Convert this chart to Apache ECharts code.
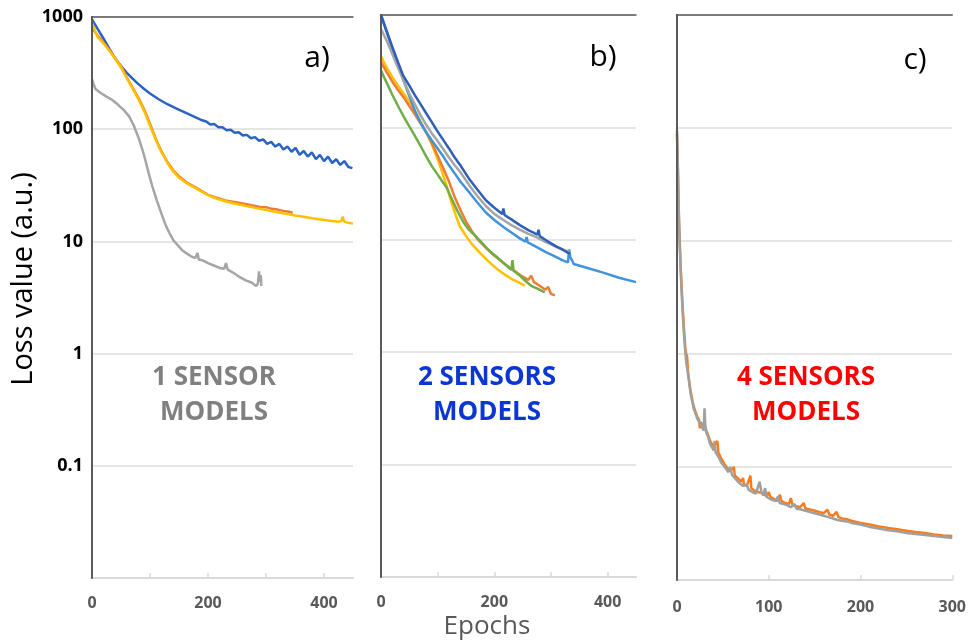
<!DOCTYPE html>
<html>
<head>
<meta charset="utf-8">
<script src="https://cdn.jsdelivr.net/npm/echarts@6/dist/echarts.min.js"></script>
<style>
  html, body { margin: 0; padding: 0; background: #fff; }
  #main { width: 969px; height: 641px; }
</style>
</head>
<body>
<div id="main"></div>
<script>
// panel a) 1 sensor models  [epoch, loss]
var aBlue = [[0,950],[10,780],[20,640],[30,520],[40,425],[50,365],[60,318],[70,282],[80,252],[90,228],[100,208],[115,185],[130,167],[145,153],[160,141],[175,130],[190,120],[197,117],[204,110],[211,111],[218,104],[225,104],[232,98],[239,99],[246,93],[253,94],[260,88],[267,89],[274,83],[281,85],[288,79],[295,81],[302,74],[309,77],[316,70],[323,74],[330,66],[337,70],[344,63],[351,68],[358,59],[365,64],[372,57],[379,62],[386,54],[393,59],[400,52],[407,57],[414,50],[421,54],[428,48],[435,52],[442,46],[449,45]];
var aOrange = [[0,800],[5,740],[10,680],[20,590],[30,505],[40,430],[50,365],[60,290],[70,235],[80,190],[90,150],[100,112],[110,82],[120,63],[130,51],[140,43],[150,38],[165,33],[180,30],[200,26],[215,24.5],[230,23.2],[245,22.5],[260,21.8],[275,21],[290,20.3],[300,20.2],[310,19.5],[320,19.2],[330,18.7],[340,18.4],[346,18]];
var aYellow = [[0,880],[5,760],[10,660],[20,580],[30,500],[40,425],[50,355],[60,285],[70,230],[80,185],[90,145],[100,108],[110,80],[120,62],[130,50],[140,42],[150,37],[165,32.5],[180,29.5],[200,25.8],[215,24],[230,22.8],[245,21.8],[260,21],[275,20.2],[290,19.5],[305,18.8],[320,18.2],[335,17.6],[350,17],[365,16.6],[380,16.1],[395,15.7],[410,15.3],[425,15],[430,15.2],[432,16.6],[435,15],[440,14.7],[450,14.4]];
var aGray = [[0,280],[3,250],[6,228],[15,210],[25,195],[35,182],[45,165],[55,148],[64,130],[72,108],[81,82],[90,58],[98,40],[104,31],[112,23],[120,17.5],[127,14],[133,12],[140,10.3],[148,9.2],[155,8.4],[162,7.9],[170,7.4],[178,7.1],[182,7.9],[184,6.9],[190,6.8],[200,6.4],[210,6.1],[220,5.8],[228,5.7],[231,6.4],[234,5.6],[245,5.2],[255,4.8],[265,4.5],[275,4.3],[283,4.0],[286,4.2],[288,5.4],[289,4.4],[291,5.0],[292,4.0]];

// panel b) 2 sensors models
var bDarkBlue = [[0,1000],[10,720],[20,520],[30,380],[39,290],[50,235],[60,193],[70,160],[80,133],[90,111],[98,95],[110,77],[120,65],[130,54],[140,46],[157,34],[170,28],[185,22.5],[200,19.3],[214,17],[216,19],[218,16.6],[230,15.2],[245,13.5],[260,12.2],[276,11.1],[278,12.3],[280,10.8],[290,10],[300,9.3],[310,8.7],[320,8.2],[333,7.5]];
var bGray = [[0,750],[10,590],[20,450],[30,340],[40,260],[50,200],[60,160],[70,128],[80,105],[90,88],[98,78],[110,64],[120,54],[130,46],[140,40],[157,30],[170,24.5],[185,20],[200,17],[216,15],[230,13.5],[245,12.3],[260,11.3],[275,10.5],[290,9.6],[300,9.1],[310,8.6],[320,8.2],[333,7.8]];
var bLightBlue = [[0,1000],[10,700],[20,500],[30,360],[40,260],[50,190],[60,140],[70,110],[80,90],[90,76],[98,67],[110,55],[120,46],[130,39],[140,33],[157,26],[170,21.5],[185,17.5],[200,15],[216,13],[230,11.6],[245,10.3],[255,9.6],[257,10.6],[259,9.5],[275,8.6],[290,7.8],[305,7.2],[320,6.6],[330,6.3],[332,8.2],[334,7.0],[337,6.6],[340,6.1],[360,5.7],[392,5.1],[420,4.6],[450,4.2]];
var bYellow = [[0,430],[10,340],[20,280],[30,235],[39,203],[50,170],[60,140],[70,112],[80,90],[90,70],[100,52],[108,40],[116,30],[125,21],[132,16.5],[139,13.2],[150,10.8],[160,9.2],[175,7.6],[190,6.4],[205,5.5],[216,5.0],[230,4.5],[242,4.2],[254,3.9]];
var bOrange = [[0,380],[10,310],[20,255],[30,215],[40,185],[50,155],[60,130],[70,108],[80,90],[90,72],[100,56],[110,43],[120,33],[130,24],[140,18.5],[150,14.5],[160,12],[170,10.2],[180,9],[190,8],[200,7.2],[210,6.6],[220,6],[230,5.5],[240,5.1],[250,4.7],[260,4.4],[265,4.8],[270,4.2],[280,3.9],[290,3.6],[295,3.8],[300,3.3],[307,3.2]];
var bGreen = [[0,320],[10,250],[20,195],[30,155],[40,125],[50,102],[57,89],[70,68],[80,55],[90,45],[100,38],[110,32],[116,29],[125,23],[135,18],[145,14.5],[155,12.3],[165,11],[175,9.8],[185,8.6],[195,7.7],[205,7],[215,6.3],[225,5.7],[230,5.4],[232,6.6],[234,5.3],[245,4.8],[255,4.3],[265,3.9],[275,3.7],[289,3.4]];

// panel c) 4 sensors models
var cGray = [[0,95],[1,40],[2,16],[3,9],[4,5.5],[5,3.6],[6,2.5],[7,1.8],[8,1.35],[9,1.05],[10,0.85],[11,0.75],[12,0.66],[13,0.58],[14,0.5],[15,0.44],[16,0.4],[17,0.37],[18,0.33],[20,0.3],[22,0.27],[24,0.25],[26,0.24],[28,0.22],[29,0.21],[30,0.33],[31,0.22],[32,0.2],[34,0.185],[36,0.16],[38,0.15],[40,0.14],[41,0.17],[42,0.135],[44,0.13],[46,0.12],[48,0.11],[50,0.105],[52,0.1],[54,0.095],[56,0.09],[58,0.1],[60,0.085],[62,0.083],[64,0.078],[66,0.076],[68,0.072],[70,0.07],[72,0.068],[74,0.066],[76,0.07],[78,0.063],[80,0.062],[82,0.06],[84,0.058],[86,0.058],[88,0.057],[90,0.074],[92,0.06],[94,0.056],[96,0.065],[98,0.054],[100,0.053],[104,0.051],[108,0.05],[110,0.055],[112,0.048],[116,0.047],[120,0.046],[124,0.044],[128,0.047],[130,0.043],[135,0.042],[140,0.041],[145,0.04],[150,0.039],[155,0.038],[160,0.037],[165,0.036],[170,0.035],[175,0.034],[180,0.0335],[185,0.033],[190,0.032],[200,0.031],[210,0.0295],[220,0.0285],[230,0.0275],[240,0.027],[250,0.026],[260,0.0255],[270,0.025],[280,0.0245],[290,0.024],[300,0.0235]];
var cOrange = [[0,90],[1,45],[2,18],[3,10],[4,6],[5,4],[6,2.8],[7,2.0],[8,1.5],[9,1.15],[10,1.0],[11,0.95],[12,0.7],[13,0.6],[14,0.52],[15,0.46],[16,0.42],[17,0.38],[18,0.35],[20,0.31],[22,0.28],[24,0.26],[25,0.22],[26,0.25],[28,0.23],[30,0.24],[32,0.21],[34,0.19],[36,0.17],[38,0.16],[40,0.15],[42,0.145],[44,0.17],[45,0.135],[48,0.12],[50,0.112],[52,0.105],[54,0.1],[56,0.096],[58,0.092],[60,0.09],[62,0.1],[63,0.084],[66,0.08],[68,0.077],[70,0.074],[72,0.08],[73,0.07],[76,0.068],[78,0.066],[80,0.084],[81,0.065],[84,0.062],[86,0.061],[88,0.06],[92,0.059],[95,0.057],[98,0.055],[100,0.06],[102,0.054],[106,0.052],[110,0.05],[112,0.057],[114,0.05],[118,0.048],[122,0.047],[124,0.053],[126,0.046],[130,0.045],[134,0.044],[138,0.048],[140,0.043],[145,0.042],[150,0.041],[155,0.04],[160,0.039],[164,0.042],[166,0.038],[170,0.037],[174,0.04],[176,0.036],[180,0.035],[185,0.0345],[190,0.0335],[200,0.032],[210,0.031],[220,0.0298],[230,0.0289],[240,0.0281],[250,0.0273],[260,0.0266],[270,0.026],[280,0.0253],[290,0.0248],[300,0.0245]];

var xMax = [450, 450, 300];
var xLabelEvery = [200, 200, 100];

var FONT = '"Open Sans", "Noto Sans", sans-serif';
var BOX = '#5a5a5a';

var myChart = echarts.init(document.getElementById('main'), null, { renderer: 'canvas' });

var grids = [
  { left: 92, top: 17, width: 261, height: 561 },
  { left: 381, top: 15, width: 255, height: 562 },
  { left: 677, top: 15, width: 276, height: 565 }
];

var xAxes = [], yAxes = [];
// bottom axes (light, ticks pointing up) + left log axes
for (var i = 0; i < 3; i++) {
  (function (i) {
    xAxes.push({
      type: 'value', gridIndex: i, min: 0, max: xMax[i], interval: 100,
      axisLine: { show: true, lineStyle: { color: '#d9d9d9', width: 2 } },
      axisTick: { show: true, inside: true, length: 5, lineStyle: { color: '#d9d9d9', width: 1.5 } },
      splitLine: { show: false },
      axisLabel: {
        margin: i === 2 ? 19 : 17, color: '#595959', fontWeight: 'bold', fontSize: 16, fontFamily: FONT,
        showMaxLabel: i === 2,
        formatter: function (v) { return v % xLabelEvery[i] === 0 ? String(v) : ''; }
      }
    });
    yAxes.push({
      type: 'log', logBase: 10, gridIndex: i, min: 0.01, max: 1000, splitNumber: 5,
      axisLine: { show: true, lineStyle: { color: '#404040', width: 2 } },
      axisTick: { show: false },
      splitLine: { show: true, lineStyle: { color: '#dcdcdc', width: 1.5 } },
      axisLabel: {
        show: i === 0, margin: 9, color: '#000', fontWeight: 'bold', fontSize: 18, fontFamily: FONT,
        formatter: function (v) { return v >= 0.05 ? String(+v.toPrecision(1)) : ''; }
      }
    });
  })(i);
}
// top and right frame lines of each panel
for (var j = 0; j < 3; j++) {
  xAxes.push({
    type: 'value', gridIndex: j, position: 'top', min: 0, max: xMax[j], z: 5,
    axisLine: { show: true, lineStyle: { color: BOX, width: 1.5 } },
    axisTick: { show: false }, axisLabel: { show: false }, splitLine: { show: false }
  });
  yAxes.push({
    type: 'log', logBase: 10, gridIndex: j, position: 'right', min: 0.01, max: 1000, z: 5,
    axisLine: { show: true, lineStyle: { color: BOX, width: 2 } },
    axisTick: { show: false }, axisLabel: { show: false }, splitLine: { show: false }
  });
}

function line(name, i, data, color) {
  return {
    name: name, type: 'line', xAxisIndex: i, yAxisIndex: i, data: data,
    showSymbol: false, symbol: 'none', silent: true, animation: false,
    lineStyle: { color: color, width: 2.5 }
  };
}

function label(text, x, y, size, color, weight) {
  return {
    type: 'text', x: x, y: y, silent: true,
    style: { text: text, fill: color, fontSize: size, fontWeight: weight || 'normal', fontFamily: FONT,
      align: 'center', verticalAlign: 'middle' }
  };
}

myChart.setOption({
  animation: false,
  backgroundColor: '#fff',
  grid: grids,
  xAxis: xAxes,
  yAxis: yAxes,
  series: [
    line('a gray', 0, aGray, '#a5a5a5'),
    line('a blue', 0, aBlue, '#2a63c4'),
    line('a orange', 0, aOrange, '#ed7d31'),
    line('a yellow', 0, aYellow, '#ffc000'),

    line('b yellow', 1, bYellow, '#ffc000'),
    line('b orange', 1, bOrange, '#ed7d31'),
    line('b green', 1, bGreen, '#70ad47'),
    line('b light blue', 1, bLightBlue, '#4193dc'),
    line('b gray', 1, bGray, '#a5a5a5'),
    line('b dark blue', 1, bDarkBlue, '#2f5fb8'),

    line('c orange', 2, cOrange, '#f57d1f'),
    line('c gray', 2, cGray, '#a0a0a0')
  ],
  graphic: [
    {
      type: 'text', x: 24, y: 279, rotation: Math.PI / 2, silent: true,
      style: { text: 'Loss value (a.u.)', fill: '#000', fontSize: 29, fontFamily: FONT, align: 'center', verticalAlign: 'middle' }
    },
    label('Epochs', 487, 627, 26, '#595959'),
    label('a)', 317, 58, 30, '#000'),
    label('b)', 603, 57, 30, '#000'),
    label('c)', 915, 60, 30, '#000'),
    label('1 SENSOR', 214, 378, 26, '#808080', 'bold'),
    label('MODELS', 214, 413, 26, '#808080', 'bold'),
    label('2 SENSORS', 487, 378, 26, '#0b36d1', 'bold'),
    label('MODELS', 487, 413, 26, '#0b36d1', 'bold'),
    label('4 SENSORS', 806, 378, 26, '#ff0000', 'bold'),
    label('MODELS', 806, 413, 26, '#ff0000', 'bold')
  ]
});
</script>
</body>
</html>
